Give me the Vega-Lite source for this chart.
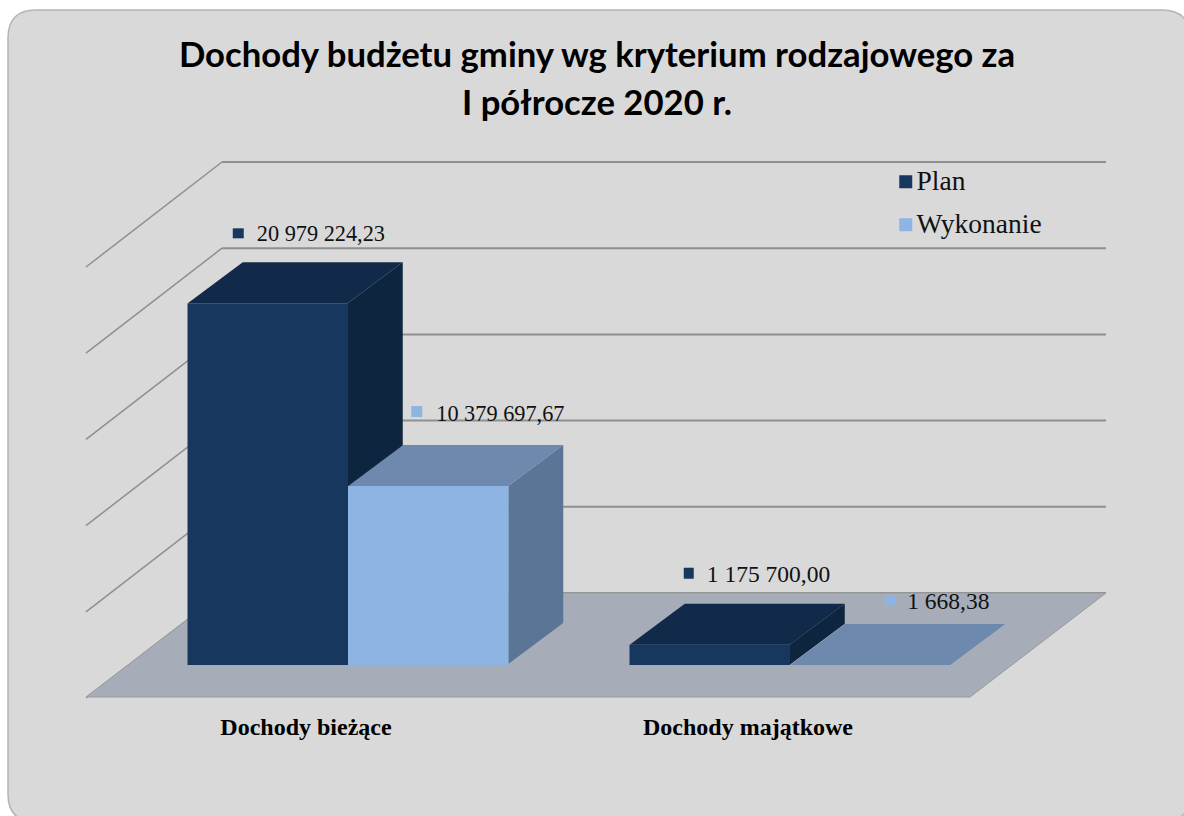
{
"$schema":"https://vega.github.io/schema/vega-lite/v6.json",
"width":884,"height":431,
"autosize":{"type":"none"},
"padding":{"left":127,"top":234,"right":173,"bottom":151},
"background":"#ffffff",
"title":{"text":["Dochody budżetu gminy wg kryterium rodzajowego za","I półrocze 2020 r."],"font":"Lato","fontSize":34.7,"fontWeight":"bold","color":"#000000","lineHeight":48,"anchor":"middle","dx":28,"offset":-116},
"config":{"view":{"stroke":null},"axisY":{"disable":true}},
"datasets":{
"bars":[
{"category":"Dochody bieżące","series":"Plan","value":20979224.23,"label":"20 979 224,23"},
{"category":"Dochody bieżące","series":"Wykonanie","value":10379697.67,"label":"10 379 697,67"},
{"category":"Dochody majątkowe","series":"Plan","value":1175700.00,"label":"1 175 700,00"},
{"category":"Dochody majątkowe","series":"Wykonanie","value":1668.38,"label":"1 668,38"}
],
"grid":[{"v":0},{"v":5000000},{"v":10000000},{"v":15000000},{"v":20000000},{"v":25000000}],
"one":[{"category":"Dochody bieżące"}]
},
"resolve":{"scale":{"shape":"independent"}},
"layer":[
{"data":{"name":"one"},"mark":{"type":"point","filled":true,"opacity":1,"size":4,"fill":"#d9d9d9","stroke":"#b4b4b4","strokeWidth":1.5,"shape":"M-312 -655L814 -655Q842 -655 842 -627L842 129Q842 157 814 157L-312 157Q-340 157 -340 129L-340 -627Q-340 -655 -312 -655Z"},
 "encoding":{"x":{"field":"category","type":"nominal","sort":["Dochody bieżące","Dochody majątkowe"],"scale":{"type":"band","domain":["Dochody bieżące","Dochody majątkowe"],"paddingInner":0.2738,"paddingOuter":0.1369},"title":null,
 "axis":{"zindex":1,"orient":"bottom","domain":false,"ticks":false,"grid":false,"labelAngle":0,"labelFont":"Liberation Serif","labelFontWeight":"bold","labelFontSize":24,"labelLimit":400,"labelColor":"#000000","labelPadding":50,"labelOffset":-42,"title":null}},
 "y":{"datum":0,"type":"quantitative","scale":{"domain":[0,25000000],"nice":false,"zero":true}}}},
{"data":{"name":"grid"},"mark":{"type":"rule","color":"#8f8f8f","strokeWidth":2,"xOffset":-126,"x2Offset":316,"yOffset":-72},
 "encoding":{"x":{"datum":"Dochody bieżące","type":"nominal"},"x2":{"datum":"Dochody majątkowe"},"y":{"field":"v","type":"quantitative"}}},
{"data":{"name":"grid"},"mark":{"type":"rule","color":"#8f8f8f","strokeWidth":1.5,"xOffset":-126,"x2Offset":-262,"yOffset":-72,"y2Offset":33},
 "encoding":{"x":{"datum":"Dochody bieżące","type":"nominal"},"x2":{"datum":"Dochody bieżące"},"y":{"field":"v","type":"quantitative"},"y2":{"field":"v"}}},
{"data":{"name":"one"},"mark":{"type":"point","filled":true,"opacity":1,"size":4,"fill":"#a6adb9","stroke":"#999999","strokeWidth":1,"shape":"M-262 32L-126 -72L758 -72L622 32Z"},
 "encoding":{"x":{"field":"category","type":"nominal"},"y":{"datum":0,"type":"quantitative"}}},

{"data":{"name":"bars"},"transform":[{"filter":"datum.series==='Plan'"}],
 "encoding":{"x":{"field":"category","type":"nominal"},"xOffset":{"field":"series","type":"nominal","scale":{"domain":["Plan","Wykonanie"]}},"y":{"field":"value","type":"quantitative"}},
 "layer":[
 {"mark":{"type":"point","filled":true,"opacity":1,"size":4,"fill":"#0e2540"},
  "encoding":{"shape":{"field":"category","type":"nominal","legend":null,"scale":{"domain":["Dochody bieżące","Dochody majątkowe"],"range":["M80 0L135 -41L135 320L80 361Z","M80 0L135 -41L135 -21L80 20Z"]}}}},
 {"mark":{"type":"point","filled":true,"opacity":1,"size":4,"fill":"#122a49","shape":"M-80 0L-25 -41L135 -41L80 0Z"}},
 {"mark":{"type":"bar"},"encoding":{"color":{"field":"series","type":"nominal","scale":{"domain":["Plan","Wykonanie"],"range":["#17375e","#8eb4e3"]},
   "legend":{"title":null,"orient":"none","legendX":765,"legendY":-66,"symbolType":"square","symbolSize":169,"symbolStrokeWidth":0,"labelFont":"Liberation Serif","labelFontSize":27.5,"labelColor":"#111111","labelOffset":-3,"rowPadding":14,"padding":0,"direction":"vertical"}}}}
 ]},
{"data":{"name":"bars"},"transform":[{"filter":"datum.series==='Wykonanie'"}],
 "encoding":{"x":{"field":"category","type":"nominal"},"xOffset":{"field":"series","type":"nominal","scale":{"domain":["Plan","Wykonanie"]}},"y":{"field":"value","type":"quantitative"}},
 "layer":[
 {"mark":{"type":"point","filled":true,"opacity":1,"size":4,"fill":"#5a7595"},
  "encoding":{"shape":{"field":"category","type":"nominal","legend":null,"scale":{"domain":["Dochody bieżące","Dochody majątkowe"],"range":["M80 0L135 -41L135 137L80 178Z","M80 0L80 0Z"]}}}},
 {"mark":{"type":"point","filled":true,"opacity":1,"size":4,"fill":"#6d89ae","shape":"M-80 0L-25 -41L135 -41L80 0Z"}},
 {"mark":{"type":"bar"},"encoding":{"color":{"field":"series","type":"nominal"}}}
 ]},

{"data":{"name":"bars"},"transform":[{"filter":"datum.value===20979224.23"}],
 "encoding":{"x":{"field":"category","type":"nominal"},"xOffset":{"field":"series","type":"nominal"},"y":{"field":"value","type":"quantitative"}},
 "layer":[
 {"mark":{"type":"point","filled":true,"opacity":1,"size":4,"fill":"#17375e","shape":"M-35 -75h11v10h-11Z"}},
 {"mark":{"type":"text","align":"left","baseline":"alphabetic","dx":-11,"dy":-62,"font":"Liberation Serif","fontSize":22.3,"color":"#111111"},"encoding":{"text":{"field":"label"}}}
 ]},
{"data":{"name":"bars"},"transform":[{"filter":"datum.value===10379697.67"}],
 "encoding":{"x":{"field":"category","type":"nominal"},"xOffset":{"field":"series","type":"nominal"},"y":{"field":"value","type":"quantitative"}},
 "layer":[
 {"mark":{"type":"point","filled":true,"opacity":1,"size":4,"fill":"#8eb4e3","shape":"M-17 -80h11v11h-11Z"}},
 {"mark":{"type":"text","align":"left","baseline":"alphabetic","dx":8,"dy":-65,"font":"Liberation Serif","fontSize":22.3,"color":"#111111"},"encoding":{"text":{"field":"label"}}}
 ]},
{"data":{"name":"bars"},"transform":[{"filter":"datum.value===1175700"}],
 "encoding":{"x":{"field":"category","type":"nominal"},"xOffset":{"field":"series","type":"nominal"},"y":{"field":"value","type":"quantitative"}},
 "layer":[
 {"mark":{"type":"point","filled":true,"opacity":1,"size":4,"fill":"#17375e","shape":"M-26 -77h10v11h-10Z"}},
 {"mark":{"type":"text","align":"left","baseline":"alphabetic","dx":-3,"dy":-63,"font":"Liberation Serif","fontSize":23.5,"color":"#111111"},"encoding":{"text":{"field":"label"}}}
 ]},
{"data":{"name":"bars"},"transform":[{"filter":"datum.value===1668.38"}],
 "encoding":{"x":{"field":"category","type":"nominal"},"xOffset":{"field":"series","type":"nominal"},"y":{"field":"value","type":"quantitative"}},
 "layer":[
 {"mark":{"type":"point","filled":true,"opacity":1,"size":4,"fill":"#8eb4e3","shape":"M15 -70h10v11h-10Z"}},
 {"mark":{"type":"text","align":"left","baseline":"alphabetic","dx":37,"dy":-56,"font":"Liberation Serif","fontSize":23.5,"color":"#111111"},"encoding":{"text":{"field":"label"}}}
 ]}
]
}
